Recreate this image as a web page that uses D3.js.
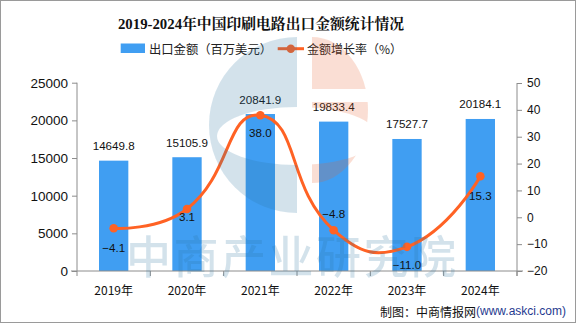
<!DOCTYPE html>
<html><head><meta charset="utf-8">
<script src="https://cdn.jsdelivr.net/npm/d3@7"></script>
<style>
html,body{margin:0;padding:0;background:#fff;}
svg{display:block;}
</style>
</head><body>
<svg id="chart" width="576" height="324"></svg>
<script>
// ---- data ----
const years = ["2019年","2020年","2021年","2022年","2023年","2024年"];
const exportValues = [14649.8, 15105.9, 20841.9, 19833.4, 17527.7, 20184.1];
const growthRates = [-4.1, 3.1, 38.0, -4.8, -11.0, 15.3];
const leftTicks = [0, 5000, 10000, 15000, 20000, 25000];
const rightTicks = [-20, -10, 0, 10, 20, 30, 40, 50];
const titleText = "2019-2024年中国印刷电路出口金额统计情况";
const seriesNames = ["出口金额（百万美元）", "金额增长率（%）"];

// ---- drawing ----
const W = 576, H = 324;
const svg = d3.select("#chart");
const numFont = "'Liberation Sans', Arial, 'Noto Sans CJK SC', sans-serif";
const cjkFont = "'Noto Sans CJK SC', 'Liberation Sans', sans-serif";
const barColor = "#409ef2";
const lineColor = "#ff6224";
const axisColor = "#8c8c8c";

svg.append("rect").attr("x",0.5).attr("y",0.5).attr("width",W-1).attr("height",H-2)
  .attr("fill","#fff").attr("stroke","#9a9a9a");

const x = d3.scaleBand().domain(years).range([77, 517]).padding(0);
const yL = d3.scaleLinear().domain([0, 25000]).range([271, 82.7]);
const yR = d3.scaleLinear().domain([-20, 50]).range([271, 83]);
const barW = x.bandwidth() * 0.4;

// title
svg.append("text").attr("x", 261).attr("y", 24).attr("text-anchor","middle")
  .attr("dominant-baseline","central")
  .style("font-family","'Liberation Serif', 'Noto Serif CJK SC', 'Noto Sans CJK SC', serif")
  .style("font-weight","bold").style("font-size","14.8px").attr("fill","#111")
  .text(titleText);

// legend
const lg = svg.append("g");
lg.append("rect").attr("x",120.7).attr("y",43.5).attr("width",24.3).attr("height",9.5).attr("fill",barColor);
lg.append("text").attr("x",149).attr("y",48.7).attr("dominant-baseline","central")
  .style("font-family",cjkFont).style("font-size","12.3px").attr("fill","#222").text(seriesNames[0]);
lg.append("line").attr("x1",277.7).attr("x2",304).attr("y1",48.7).attr("y2",48.7)
  .attr("stroke",lineColor).attr("stroke-width",3);
lg.append("circle").attr("cx",290.8).attr("cy",48.7).attr("r",4.2).attr("fill",lineColor);
lg.append("text").attr("x",307).attr("y",48.7).attr("dominant-baseline","central")
  .style("font-family",cjkFont).style("font-size","12px").attr("fill","#222").text(seriesNames[1]);

// bars
svg.append("g").selectAll("rect").data(exportValues).join("rect")
  .attr("x", (d,i) => x(years[i]) + (x.bandwidth()-barW)/2)
  .attr("y", d => yL(d))
  .attr("width", barW)
  .attr("height", d => yL(0) - yL(d))
  .attr("fill", barColor);

// bar value labels
svg.append("g").selectAll("text").data(exportValues).join("text")
  .attr("x", (d,i) => x(years[i]) + x.bandwidth()/2)
  .attr("y", d => yL(d) - 15)
  .attr("text-anchor","middle").attr("dominant-baseline","central")
  .style("font-family",numFont).style("font-size","11.6px").attr("fill","#111")
  .text(d => d.toFixed(1));

// axes
const axL = svg.append("g").attr("transform","translate(77,0)")
  .call(d3.axisLeft(yL).tickValues(leftTicks).tickSize(5).tickPadding(4).tickFormat(d3.format("d")));
const axR = svg.append("g").attr("transform","translate(517,0)")
  .call(d3.axisRight(yR).tickValues(rightTicks).tickSize(5).tickPadding(5).tickFormat(d => d < 0 ? "−" + Math.abs(d) : d));
const axB = svg.append("g").attr("transform","translate(0,271)")
  .call(d3.axisBottom(x).tickSize(0).tickPadding(15));
// category boundary ticks
svg.append("g").selectAll("line").data(years.concat([null])).join("line")
  .attr("x1",(d,i)=> i < years.length ? x(d) : x.range()[1])
  .attr("x2",(d,i)=> i < years.length ? x(d) : x.range()[1])
  .attr("y1",271).attr("y2",276).attr("stroke",axisColor);
svg.append("line").attr("x1",71).attr("x2",523).attr("y1",271).attr("y2",271).attr("stroke",axisColor);

[axL, axR, axB].forEach(a => {
  a.selectAll(".domain").attr("stroke",axisColor);
  a.selectAll(".tick line").attr("stroke",axisColor);
  a.selectAll("text").attr("fill","#111").style("font-family",numFont);
});
axB.select(".domain").remove();
axL.select(".domain").attr("d","M0,82.7V271");
axR.select(".domain").attr("d","M0,83V276");
axL.selectAll("text").style("font-size","13.5px");
axR.selectAll("text").style("font-size","12px");
axB.selectAll("text").style("font-size","12px").style("font-family",cjkFont).attr("fill","#111");

// smooth line (ECharts-like bezier smoothing)
const pts = growthRates.map((g,i) => [x(years[i]) + x.bandwidth()/2, yR(g)]);
const smooth = 0.5;
function smoothPath(p) {
  const path = d3.path();
  const n = p.length;
  const cpA = [], cpB = [];
  for (let i = 0; i < n; i++) {
    const prev = p[Math.max(i-1,0)], next = p[Math.min(i+1,n-1)], cur = p[i];
    if (i === 0 || i === n-1) { cpA[i] = cur; cpB[i] = cur; continue; }
    const vx = next[0]-prev[0], vy = next[1]-prev[1];
    const lp = Math.hypot(cur[0]-prev[0], cur[1]-prev[1]);
    const ln = Math.hypot(next[0]-cur[0], next[1]-cur[1]);
    const r = ln/(lp+ln);
    cpB[i] = [cur[0] - vx*smooth*(1-r), cur[1] - vy*smooth*(1-r)];
    cpA[i] = [cur[0] + vx*smooth*r, cur[1] + vy*smooth*r];
  }
  path.moveTo(p[0][0], p[0][1]);
  for (let i = 1; i < n; i++) {
    path.bezierCurveTo(cpA[i-1][0], cpA[i-1][1], cpB[i][0], cpB[i][1], p[i][0], p[i][1]);
  }
  return path.toString();
}
svg.append("path").attr("d", smoothPath(pts)).attr("fill","none")
  .attr("stroke",lineColor).attr("stroke-width",3);
svg.append("g").selectAll("circle").data(pts).join("circle")
  .attr("cx",d=>d[0]).attr("cy",d=>d[1]).attr("r",4.3).attr("fill",lineColor);

// growth labels
const labelDy = [19, 8, 17, -17, 18, 19];
svg.append("g").selectAll("text").data(growthRates).join("text")
  .attr("x",(d,i)=>pts[i][0]).attr("y",(d,i)=>pts[i][1] + labelDy[i])
  .attr("text-anchor","middle").attr("dominant-baseline","central")
  .style("font-family",numFont).style("font-size","11.6px").attr("fill","#111")
  .text(d => (d < 0 ? "−" + Math.abs(d).toFixed(1) : d.toFixed(1)));

// source
const src = svg.append("text").attr("x",566).attr("y",311).attr("text-anchor","end")
  .attr("dominant-baseline","central").style("font-size","12px");
src.append("tspan").style("font-family",cjkFont).attr("fill","#111").text("制图：中商情报网");
src.append("tspan").style("font-family",numFont).attr("fill","#1f3a8f").text("(www.askci.com)");

// watermark (topmost, translucent)
const defs = svg.append("defs");
const mask = defs.append("mask").attr("id","logoMask");
mask.append("rect").attr("x",0).attr("y",0).attr("width",W).attr("height",H).attr("fill","#fff");
mask.append("ellipse").attr("cx",297).attr("cy",136).attr("rx",80).attr("ry",29).attr("fill","#000");
mask.append("rect").attr("x",297).attr("y",0).attr("width",15).attr("height",H).attr("fill","#000");
mask.append("rect").attr("x",312).attr("y",89).attr("width",80).attr("height",13).attr("fill","#000");

const wm = svg.append("g").attr("pointer-events","none");
const cx0 = 297, cy0 = 125, R = 88;
const blueLogo = d3.path();
blueLogo.moveTo(cx0, cy0 - R);
blueLogo.arc(cx0, cy0, R, -Math.PI/2, Math.PI/2, true);
blueLogo.closePath();
wm.append("path").attr("d", blueLogo.toString()).attr("fill","#2a73a0").attr("opacity",0.2)
  .attr("mask","url(#logoMask)");
wm.append("path")
  .attr("d", "M312,37 A56,73 0 0 1 312,183 Z")
  .attr("fill","#e8602c").attr("opacity",0.2).attr("mask","url(#logoMask)");
wm.append("text").attr("x",126).attr("y",254).attr("dominant-baseline","central")
  .style("font-family",cjkFont).style("font-weight","500").style("font-size","45px")
  .style("letter-spacing","2.5px").attr("fill","#2a73a0").attr("opacity",0.2)
  .text("中商产业研究院");
</script>
</body></html>
